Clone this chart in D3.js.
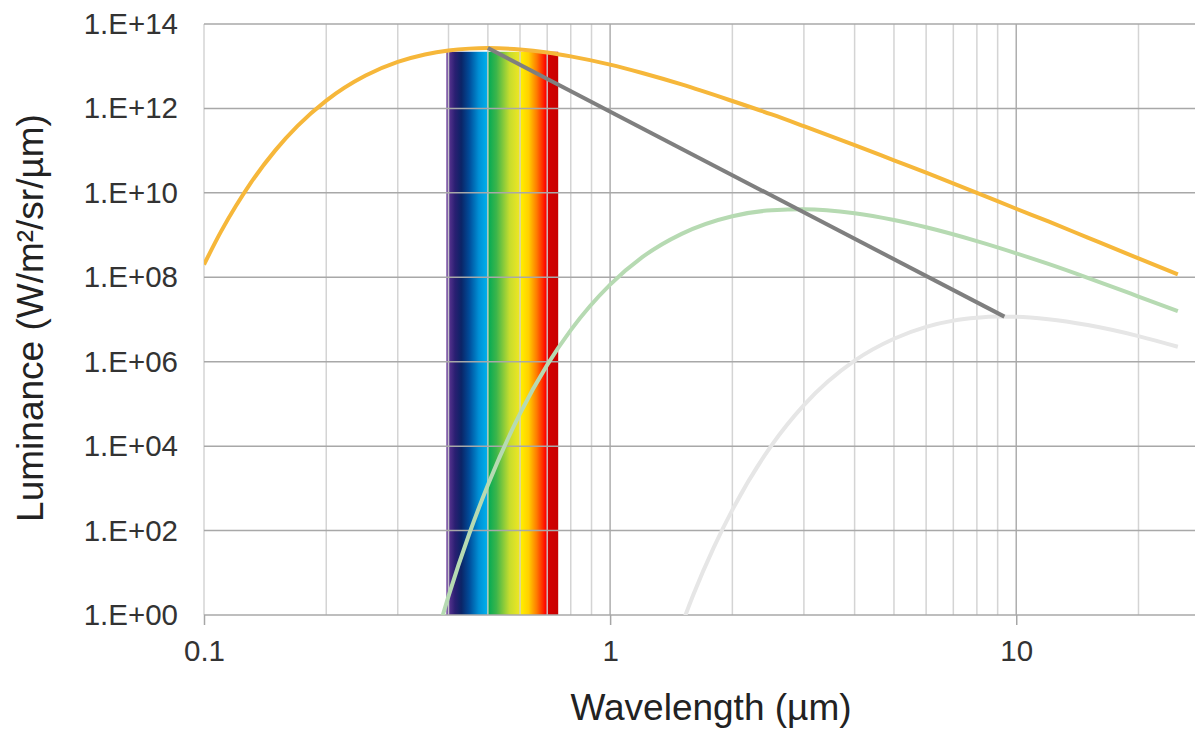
<!DOCTYPE html>
<meta charset="utf-8">
<script src="https://d3js.org/d3.v7.min.js"></script>
<style>
body { margin: 0; background: #fff; }
text { font-family: "Liberation Sans", Arial, sans-serif; }
</style>
<svg id="chart" width="1195" height="729"></svg>
<script>
// wavelengths in µm, luminance
const sunLambda = [0.1, 0.11, 0.12, 0.13, 0.15, 0.17, 0.2, 0.25, 0.3, 0.35, 0.4, 0.45, 0.5, 0.6, 0.7, 0.8, 1, 1.2, 1.5, 2, 2.5, 3, 4, 5, 6, 8, 10, 12, 15, 20, 25]
const sunLum = [2.0e8, 1.19e9, 5.0e9, 1.66e10, 1.03e11, 3.86e11, 1.53e12, 6.0e12, 1.26e13, 1.89e13, 2.36e13, 2.61e13, 2.69e13, 2.49e13, 2.11e13, 1.71e13, 1.09e13, 6.9e12, 3.7e12, 1.5e12, 7.2e11, 3.8e11, 1.35e11, 5.9e10, 3.0e10, 1.0e10, 4.2e9, 2.1e9, 8.7e8, 2.8e8, 1.17e8]

const hotLambda = [0.38, 0.4, 0.45, 0.5, 0.6, 0.7, 0.8, 1, 1.2, 1.5, 2, 2.5, 3, 4, 5, 6, 8, 10, 12, 15, 20, 25]
const hotLum = [0.54, 2.8, 84, 1.2e3, 5.9e4, 8.4e5, 5.6e6, 6.7e7, 3.0e8, 1.07e9, 2.8e9, 3.87e9, 4.08e9, 3.28e9, 2.27e9, 1.53e9, 7.2e8, 3.7e8, 2.07e8, 9.7e7, 3.5e7, 1.57e7]

const bodyLambda = [1.5, 1.6, 1.8, 2, 2.5, 3, 4, 5, 6, 7, 8, 9, 10, 12, 15, 20, 25]
const bodyLum = [0.57, 2.9, 40, 310, 1.06e4, 9.4e4, 1.06e6, 3.5e6, 6.7e6, 9.4e6, 1.10e7, 1.17e7, 1.16e7, 1.02e7, 7.4e6, 4.05e6, 2.26e6]

// line through the peaks
const peakLambda = [0.5, 9.35]
const peakLum = [2.69e13, 1.17e7]

// visible band
const visibleRange = [0.395, 0.745]
const visibleTop = 2.2e13
const spectrumStops = [
  [0.395, "#7b4fa5"], [0.4, "#5b3591"], [0.415, "#2a1f72"], [0.43, "#0b2466"],
  [0.45, "#004c9a"], [0.475, "#0090d5"], [0.497, "#00aeea"], [0.5, "#00aa55"],
  [0.525, "#3db54a"], [0.565, "#c5dc2e"], [0.597, "#ede622"], [0.6, "#fff200"],
  [0.63, "#ffd000"], [0.66, "#ff7a00"], [0.695, "#ff0000"], [0.7, "#d40000"],
  [0.745, "#c80000"]
]

const xTicks = [0.1, 1, 10]
const yTicks = [1, 1e2, 1e4, 1e6, 1e8, 1e10, 1e12, 1e14]
const xGrid = [0.1, 0.2, 0.3, 0.4, 0.5, 0.6, 0.7, 0.8, 0.9, 1, 2, 3, 4, 5, 6, 7, 8, 9, 10, 20, 30]

const svg = d3.select("#chart")
const plotLeft = 204, plotRight = 1210, plotTop = 24, plotBottom = 615

const x = d3.scaleLog().domain([0.1, 30]).range([plotLeft, plotRight])
const y = d3.scaleLog().domain([1, 1e14]).range([plotBottom, plotTop])

const defs = svg.append("defs")
defs.append("clipPath").attr("id", "plot")
  .append("rect").attr("x", plotLeft).attr("y", plotTop - 5)
  .attr("width", plotRight - plotLeft).attr("height", plotBottom - plotTop + 5)

// spectrum band
const span = x(visibleRange[1]) - x(visibleRange[0])
const grad = defs.append("linearGradient")
  .attr("id", "spectrum")
  .attr("gradientUnits", "userSpaceOnUse")
  .attr("x1", x(visibleRange[0])).attr("x2", x(visibleRange[1]))
  .attr("y1", 0).attr("y2", 0)
grad.selectAll("stop").data(spectrumStops).join("stop")
  .attr("offset", d => (x(d[0]) - x(visibleRange[0])) / span)
  .attr("stop-color", d => d[1])

svg.append("rect")
  .attr("x", x(visibleRange[0]))
  .attr("y", y(visibleTop))
  .attr("width", span)
  .attr("height", y(1) - y(visibleTop))
  .attr("fill", "url(#spectrum)")

// grid
svg.append("g").selectAll("line").data(xGrid).join("line")
  .attr("x1", d => x(d)).attr("x2", d => x(d))
  .attr("y1", plotTop).attr("y2", plotBottom)
  .attr("stroke", d => (d === 1 || d === 10) ? "#a6a6a6" : "#d0d0d0")
  .attr("stroke-width", 1.5)
  .attr("opacity", 0.9)

svg.append("g").selectAll("line").data(yTicks).join("line")
  .attr("x1", plotLeft).attr("x2", plotRight)
  .attr("y1", d => y(d)).attr("y2", d => y(d))
  .attr("stroke", "#a8a8a8")
  .attr("stroke-width", 1.5)

// axes
const yAxis = svg.append("g")
  .attr("transform", `translate(${plotLeft},0)`)
  .call(d3.axisLeft(y).tickValues(yTicks).tickSize(0).tickPadding(26)
    .tickFormat(d => "1.E+" + String(Math.round(Math.log10(d))).padStart(2, "0")))
yAxis.select(".domain").remove()

const xAxis = svg.append("g")
  .attr("transform", `translate(0,${plotBottom})`)
  .call(d3.axisBottom(x).tickValues(xTicks).tickSize(10).tickPadding(15)
    .tickFormat(d => String(d)))
xAxis.select(".domain").remove()
xAxis.selectAll(".tick line").attr("stroke", "#a6a6a6").attr("stroke-width", 1.5)

svg.selectAll(".tick text")
  .attr("font-size", 29.5)
  .attr("fill", "#333")
  .attr("font-family", "Liberation Sans, Arial, sans-serif")

// curves
const line = d3.line()
  .x(d => x(d[0]))
  .y(d => y(d[1]))
  .curve(d3.curveMonotoneX)

const curves = svg.append("g").attr("clip-path", "url(#plot)")
const series = [
  { lam: bodyLambda, lum: bodyLum, color: "#e6e6e6" },
  { lam: hotLambda, lum: hotLum, color: "#b6dab2" },
  { lam: sunLambda, lum: sunLum, color: "#f6b73a" },
  { lam: peakLambda, lum: peakLum, color: "#7f7f7f" }
]
series.forEach(s => {
  curves.append("path")
    .datum(d3.zip(s.lam, s.lum))
    .attr("d", line)
    .attr("fill", "none")
    .attr("stroke", s.color)
    .attr("stroke-width", 4)
})

// titles
svg.append("text")
  .attr("x", 711).attr("y", 720)
  .attr("text-anchor", "middle")
  .attr("font-size", 37)
  .attr("fill", "#222")
  .text("Wavelength (µm)")

svg.append("text")
  .attr("transform", "translate(43,318) rotate(-90)")
  .attr("text-anchor", "middle")
  .attr("font-size", 37)
  .attr("fill", "#222")
  .text("Luminance (W/m²/sr/µm)")
</script>
